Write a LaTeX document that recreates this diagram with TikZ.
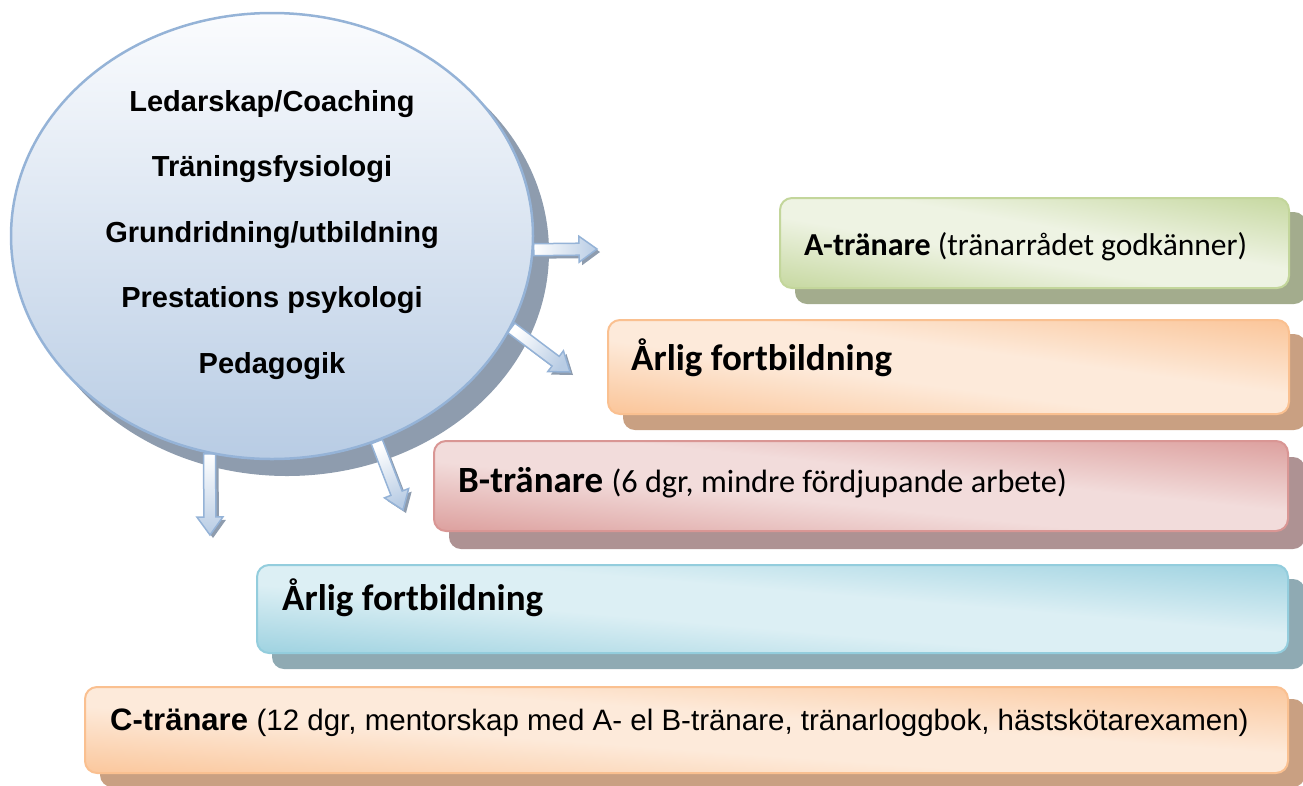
\documentclass[tikz,border=0pt]{standalone}
\usepackage{fontspec}
\setmainfont{Liberation Sans}
\newfontfamily\calibri{Carlito}
\usetikzlibrary{calc,shapes.geometric,backgrounds}
\definecolor{ellTop}{HTML}{FBFCFE}
\definecolor{ellBot}{HTML}{B8CCE4}
\definecolor{ellEdge}{HTML}{95B3D7}
\definecolor{ellShadow}{HTML}{8E9CAE}
\definecolor{Aedge}{HTML}{C3D69B}
\definecolor{Amid}{HTML}{EEF3E3}
\definecolor{Ashadow}{HTML}{A3AC8D}
\definecolor{Oedge}{HTML}{FAC090}
\definecolor{Omid}{HTML}{FDEADA}
\definecolor{Oshadow}{HTML}{C9A082}
\definecolor{Bedge}{HTML}{D99694}
\definecolor{Bmid}{HTML}{F2DCDB}
\definecolor{Bshadow}{HTML}{AE9293}
\definecolor{Cedge}{HTML}{93CDDD}
\definecolor{Cmid}{HTML}{DCEFF4}
\definecolor{Cshadow}{HTML}{8FAAB3}
\colorlet{bxedge}{Oedge}
\colorlet{bxmid}{Omid}
\pgfdeclareverticalshading[bxedge,bxmid]{boxshade}{100bp}{%
  color(0bp)=(bxedge); color(19bp)=(bxedge); color(44bp)=(bxmid);
  color(56bp)=(bxmid); color(81bp)=(bxedge); color(100bp)=(bxedge)}
\tikzset{
  box/.style n args={3}{rectangle, rounded corners=12pt, draw=#1, line width=2pt,
    /utils/exec={\colorlet{bxedge}{#1}\colorlet{bxmid}{#2}},
    shading=boxshade, shading angle=#3, inner sep=0pt},
  txt/.style={inner sep=0pt, anchor=base west, text=black},
  arrbody/.style={draw=ellEdge, line width=1.5pt, line join=miter, top color=white, bottom color=ellBot},
  arrshadow/.style={fill=ellShadow},
}
\newcommand\arrowpoly[3]{% from, to, options
  \coordinate (ah) at ($(#2)!18pt!(#1)$);
  \path[#3] ($(#1)!6pt!90:(#2)$) -- ($(ah)!6pt!90:(#2)$) -- ($(ah)!13pt!90:(#2)$)
    -- (#2) -- ($(ah)!13pt!-90:(#2)$) -- ($(ah)!6pt!-90:(#2)$) -- ($(#1)!6pt!-90:(#2)$) -- cycle;
}
\newcommand\blockarrow[3]{% from, to, shading angle
  \coordinate (sa) at ($(#1)+(3,3)$);
  \coordinate (sb) at ($(#2)+(3,3)$);
  \arrowpoly{sa}{sb}{arrshadow}
  \arrowpoly{#1}{#2}{arrbody, shading angle=#3}
}
\begin{document}
\begin{tikzpicture}[x=1pt,y=-1pt]
\useasboundingbox (0,0) rectangle (1303,785);

% central ellipse
\node[ellipse, draw=ellEdge, line width=2.5pt, top color=ellTop, bottom color=ellBot,
      minimum width=522pt, minimum height=446pt, inner sep=0pt] (circ) at (272,236) {};
\node[align=center, inner sep=0pt, font=\fontsize{29}{65.5}\selectfont\bfseries] (ctext)
  at ($(circ.center)+(0,-1)$)
  {Ledarskap/Coaching\\Träningsfysiologi\\Grundridning/utbildning\\Prestations psykologi\\Pedagogik};

% boxes
\node[box={Aedge}{Amid}{-10}, anchor=north west, minimum width=509pt, minimum height=90pt] (boxA) at (779,197) {};
\node[box={Oedge}{Omid}{-7.9}, anchor=north west, minimum width=681pt, minimum height=94pt] (boxO) at (607,319) {};
\node[box={Bedge}{Bmid}{-6}, anchor=north west, minimum width=854pt, minimum height=90pt] (boxB) at (433,440) {};
\node[box={Cedge}{Cmid}{-4.9}, anchor=north west, minimum width=1031pt, minimum height=88pt] (boxF) at (256,564) {};
\node[box={Oedge}{Omid}{-4.1}, anchor=north west, minimum width=1203pt, minimum height=86pt] (boxC) at (84,686) {};

% texts
\node[txt] (tA) at (804,255) {\calibri\fontsize{32}{38}\selectfont\bfseries A-tränare \fontsize{31.5}{38}\selectfont\mdseries(tränarrådet godkänner)};
\node[txt] (tO) at (631,370) {\calibri\fontsize{37}{44}\selectfont\bfseries Årlig fortbildning};
\node[txt] (tB) at (458,492) {\calibri\fontsize{37}{44}\selectfont\bfseries B-tränare \fontsize{32.3}{38}\selectfont\mdseries(6 dgr, mindre fördjupande arbete)};
\node[txt] (tF) at (282,610) {\calibri\fontsize{37}{44}\selectfont\bfseries Årlig fortbildning};
\node[txt] (tC) at (110,730) {\fontsize{31}{36}\selectfont\bfseries C-tränare \fontsize{29.5}{36}\selectfont\mdseries(12 dgr, mentorskap med A- el B-tränare, tränarloggbok, hästskötarexamen)};

% arrow tips
\coordinate (t1) at (597,249);
\coordinate (t2) at (570,372);
\coordinate (t3) at (403,510);
\coordinate (t4) at (210,535);

\begin{pgfonlayer}{background}
  \fill[ellShadow] ($(circ.center)+(15,16)$) ellipse [x radius=262pt, y radius=224pt];
  \fill[Ashadow, rounded corners=12pt] ($(boxA.north west)+(16,15)$) rectangle ($(boxA.south east)+(16,15)$);
  \fill[Oshadow, rounded corners=12pt] ($(boxO.north west)+(16,15)$) rectangle ($(boxO.south east)+(16,15)$);
  \fill[Bshadow, rounded corners=12pt] ($(boxB.north west)+(16,17)$) rectangle ($(boxB.south east)+(16,17)$);
  \fill[Cshadow, rounded corners=12pt] ($(boxF.north west)+(16,15)$) rectangle ($(boxF.south east)+(16,15)$);
  \fill[Oshadow, rounded corners=12pt] ($(boxC.north west)+(16,13)$) rectangle ($(boxC.south east)+(16,13)$);
  \blockarrow{circ.-3}{t1}{90}
  \blockarrow{circ.-21}{t2}{54}
  \blockarrow{circ.-63}{t3}{23}
  \blockarrow{circ.-106}{t4}{0}
\end{pgfonlayer}
\end{tikzpicture}
\end{document}
